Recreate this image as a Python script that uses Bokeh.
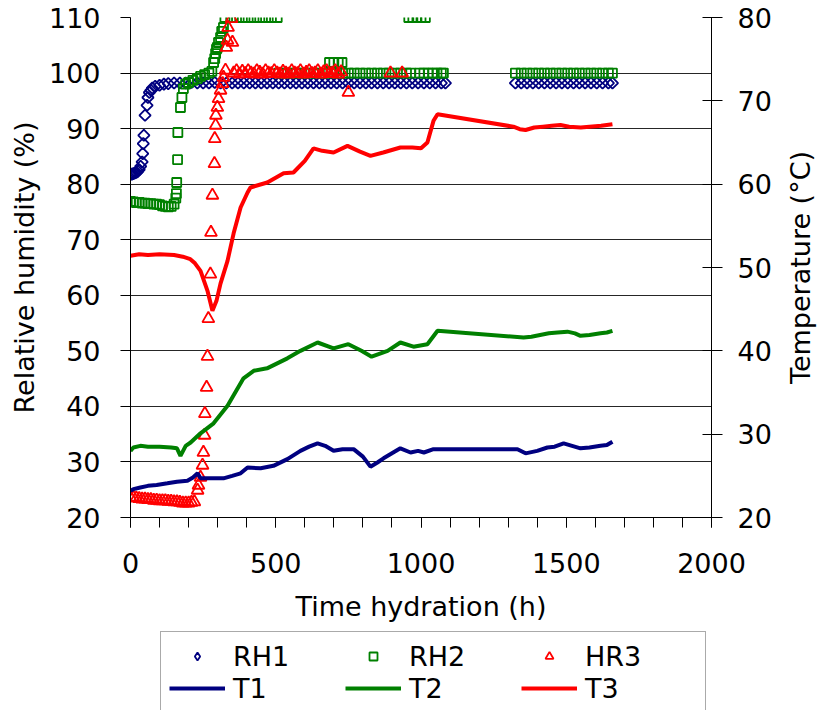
import math
from bokeh.plotting import figure
from bokeh.layouts import column, row
from bokeh.models import (Range1d, LinearAxis, FixedTicker, SingleIntervalTicker,
                          Legend, LegendItem, Title)
from bokeh.embed import file_html
from bokeh.resources import INLINE

NAN = float("nan")

# ---------------- data ----------------
# Relative humidity series (left axis, %)
rh1_h = [0, 5, 10, 15, 20, 25, 30, 35, 40, 42, 44, 46, 50, 57, 60, 65, 70, 75, 85, 100, 115, 130, 150,
         170, 190, 210, 230, 250, 270, 290, 310, 330, 350, 370, 390, 410, 430, 450, 470, 490, 510,
         530, 550, 570, 590, 610, 630, 650, 670, 690, 710, 730, 750, 770, 790, 810, 830, 850, 870,
         890, 910, 930, 950, 970, 990, 1010, 1030, 1050, 1070, 1084,
         1325, 1345, 1365, 1385, 1405, 1425, 1445, 1465, 1485, 1505, 1525, 1545, 1565, 1585, 1605,
         1625, 1645, 1659]
rh1_v = [81.8, 81.8, 81.9, 82.0, 82.1, 82.3, 82.6, 83.2, 84.0, 85.5, 87.3, 88.8, 92.4, 94.2, 95.6, 96.5,
         96.9, 97.3, 97.6, 97.8, 98.0, 98.1, 98.2,
         98.2, 98.2, 98.3, 98.2, 98.2, 98.2, 98.3, 98.2, 98.2, 98.2, 98.2, 98.2, 98.2, 98.2, 98.2, 98.2,
         98.2, 98.2, 98.2, 98.2, 98.2, 98.2, 98.2, 98.2, 98.2, 98.2, 98.2, 98.2, 98.2, 98.2, 98.2, 98.2,
         98.2, 98.2, 98.2, 98.2, 98.2, 98.2, 98.2, 98.2, 98.2, 98.2, 98.2, 98.2, 98.2, 98.2, 98.2,
         98.2, 98.2, 98.2, 98.2, 98.2, 98.2, 98.2, 98.2, 98.2, 98.2, 98.2, 98.2, 98.2, 98.2, 98.2,
         98.2, 98.2, 98.2]

rh2_h = [0, 10, 20, 30, 40, 50, 60, 70, 80, 90, 100, 110, 120, 130, 140, 150,
         156, 158, 159, 162, 163, 172, 177, 182, 190, 200, 215, 230, 241, 255, 270, 280,
         286, 290, 293, 296, 299, 303, 310, 314, 320,
         325, 345, 365, 385, 405, 425, 445, 465, 485, 505,
         510, 530, 550, 570, 590, 610, 630, 650, 670, 685, 690, 700, 710, 715, 728, 730, 750, 770,
         790, 810, 830, 850, 870, 890, 910, 930, 950, 958, 965, 972, 986, 995, 1000, 1010, 1015,
         1025, 1040, 1055, 1070, 1077,
         1325, 1345, 1365, 1385, 1405, 1425, 1445, 1465, 1485, 1505, 1525, 1545, 1565, 1585, 1605,
         1625, 1645, 1659]
rh2_v = [76.9, 76.8, 76.7, 76.7, 76.6, 76.6, 76.5, 76.5, 76.4, 76.4, 76.3, 76.1, 76.0, 75.9, 76.0, 76.4,
         77.5, 78.3, 80.3, 84.4, 89.3, 93.8, 95.6, 97.2, 98.0, 98.3, 98.7, 99.0, 99.4, 99.7, 100.0, 100.3,
         101.9, 102.6, 103.5, 104.3, 104.6, 105.5, 106.4, 107.5, 108.2,
         110, 110, 110, 110, 110, 110, 110, 110, 110, 110,
         100.0, 100.0, 100.0, 100.0, 100.0, 100.0, 100.0, 100.0, 100.0, 101.9, 100.0, 101.9, 100.0,
         101.9, 101.9, 100.0, 100.0, 100.0,
         100.0, 100.0, 100.0, 100.0, 100.0, 100.0, 100.0, 100.0, 100.0, 110, 100.0, 110, 110, 100.0,
         110, 100.0, 110,
         100.0, 100.0, 100.0, 100.0, 100.0,
         100.0, 100.0, 100.0, 100.0, 100.0, 100.0, 100.0, 100.0, 100.0, 100.0, 100.0, 100.0, 100.0,
         100.0, 100.0, 100.0, 100.0, 100.0]

hr3_h = [0, 10, 20, 30, 40, 50, 60, 70, 80, 90, 100, 110, 120, 130, 140, 150, 160, 170, 180, 190,
         200, 210, 220,
         231, 234, 241, 248, 251, 255, 256, 262, 265, 268, 275, 277, 282, 289, 290, 293, 294, 299,
         303, 310, 317, 320, 327, 330, 334, 336, 348, 351,
         355, 365, 375, 385, 395, 405, 415, 425, 435, 445, 455, 465, 475, 485, 495, 505, 515, 525,
         535, 545, 555, 565, 575, 585, 595, 605, 615, 625, 635, 645, 655, 665, 675, 685, 695, 705,
         715, 725, 750, 895, 935]
hr3_v = [23.6, 23.6, 23.5, 23.4, 23.3, 23.3, 23.2, 23.2, 23.1, 23.1, 23.0, 23.0, 23.0, 22.9, 22.9,
         22.8, 22.8, 22.7, 22.6, 22.6, 22.6, 22.7, 22.8,
         24.9, 25.8, 27.2, 29.4, 31.7, 34.8, 38.7, 43.4, 49.0, 55.8, 63.8, 71.3, 78.0, 83.7, 88.2,
         90.6, 92.4, 93.8, 95.4, 96.9, 98.1, 99.2, 100.5, 104.6, 105.9, 108.2, 109.8, 105.5,
         100.0, 100.4, 99.8, 100.3, 99.9, 100.4, 100.0, 99.8, 100.4, 100.1, 99.8, 100.4, 100.0, 99.9,
         100.4, 100.0, 99.8, 100.3, 100.0, 99.8, 100.4, 100.0, 99.9, 100.4, 99.8, 100.1, 100.4, 99.9,
         100.0, 100.4, 99.8, 100.2, 100.4, 99.9, 100.0, 100.4, 99.8, 100.2, 96.5, 100.0, 100.0]

# Temperature series (right axis, degC)
t1_h = [0, 10, 34, 60, 90, 127, 160, 196, 215, 231, 241, 280, 320, 350, 379, 403, 448, 492, 540,
        585, 615, 644, 670, 699, 730, 768, 800, 826, 850, 871, 900, 929, 964, 990, 1010, 1043,
        1100, 1200, 1332, 1360, 1400, 1435, 1460, 1491, 1520, 1549, 1580, 1618, 1640, 1659]
t1_v = [23.2, 23.4, 23.6, 23.8, 23.9, 24.1, 24.3, 24.4, 24.8, 25.3, 24.7, 24.7, 24.7, 25.0, 25.3,
        26.0, 25.9, 26.2, 27.0, 28.0, 28.5, 28.9, 28.6, 28.0, 28.2, 28.2, 27.3, 26.1, 26.6, 27.1,
        27.7, 28.3, 27.8, 28.0, 27.8, 28.2, 28.2, 28.2, 28.2, 27.7, 28.0, 28.4, 28.5, 28.9, 28.6,
        28.3, 28.4, 28.6, 28.7, 29.1]

t2_h = [0, 10, 34, 60, 100, 140, 160, 172, 190, 207, 241, 286, 334, 389, 424, 470, 540, 585, 644,
        699, 750, 795, 830, 885, 929, 974, 1022, 1057, 1353, 1380, 1410, 1440, 1470, 1504, 1530,
        1549, 1580, 1618, 1640, 1659]
t2_v = [28.0, 28.4, 28.6, 28.5, 28.5, 28.4, 28.3, 27.4, 28.6, 29.0, 30.1, 31.3, 33.4, 36.7, 37.6,
        37.9, 39.1, 40.0, 41.0, 40.3, 40.8, 40.0, 39.3, 40.0, 41.0, 40.5, 40.8, 42.4, 41.6, 41.7,
        41.9, 42.1, 42.2, 42.3, 42.1, 41.8, 41.9, 42.1, 42.2, 42.4]

t3_h = [0, 30, 60, 100, 150, 180, 206, 222, 241, 265, 282, 296, 310, 334, 355, 379, 403, 413, 471,
        527, 561, 600, 630, 660, 699, 747, 790, 826, 870, 929, 970, 1000, 1022, 1043, 1057, 1318,
        1340, 1360, 1390, 1420, 1450, 1480, 1510, 1550, 1580, 1620, 1659]
t3_v = [51.4, 51.6, 51.5, 51.6, 51.5, 51.3, 51.0, 50.5, 49.6, 47.2, 44.8, 46.0, 48.1, 50.8, 54.1,
        57.2, 59.0, 59.6, 60.2, 61.3, 61.4, 62.8, 64.3, 64.0, 63.8, 64.6, 63.9, 63.4, 63.8, 64.4,
        64.4, 64.3, 65.0, 67.6, 68.4, 66.9, 66.6, 66.5, 66.8, 66.9, 67.0, 67.1, 66.9, 66.8, 66.9,
        67.0, 67.2]

rh_ticks = [20, 30, 40, 50, 60, 70, 80, 90, 100, 110]
t_ticks = [20, 30, 40, 50, 60, 70, 80]
legend_labels = ["RH1", "RH2", "HR3", "T1", "T2", "T3"]

NAVY, GREEN, RED = "#000080", "#008000", "#FF0000"
FONT = "DejaVu Sans"
FS = "27px"

# ---------------- main figure ----------------
p = figure(width=780, height=631, x_range=Range1d(0, 2000), y_range=Range1d(20, 110),
           output_backend="svg", toolbar_location=None,
           min_border_left=130, min_border_right=69, min_border_top=17, min_border_bottom=114)
p.extra_y_ranges = {"temp": Range1d(20, 80)}
p.outline_line_color = None
p.background_fill_color = "white"
p.border_fill_color = "white"

xa = p.xaxis[0]
xa.ticker = SingleIntervalTicker(interval=500, num_minor_ticks=5)
xa.axis_label = "Time hydration (h)"
ya = p.yaxis[0]
ya.ticker = FixedTicker(ticks=rh_ticks)
ya.axis_label = "Relative humidity (%)"
ra = LinearAxis(y_range_name="temp", ticker=FixedTicker(ticks=t_ticks))
p.add_layout(ra, "right")

for ax in (xa, ya, ra):
    ax.axis_line_color = "black"
    ax.axis_line_width = 1
    ax.major_tick_line_color = "black"
    ax.minor_tick_line_color = "black"
    ax.major_tick_in = 0
    ax.major_tick_out = 10
    ax.minor_tick_in = 0
    ax.minor_tick_out = 10
    ax.major_label_text_font = FONT
    ax.major_label_text_font_size = FS
    ax.major_label_text_color = "black"
    ax.axis_label_text_font = FONT
    ax.axis_label_text_font_size = FS
    ax.axis_label_text_font_style = "normal"
    ax.axis_label_text_color = "black"

ya.minor_tick_line_color = None
ra.minor_tick_line_color = None
ra.major_tick_in = 9
ra.major_tick_out = 11

xa.major_label_standoff = 25
xa.axis_label_standoff = 15
ya.major_label_standoff = 20
ya.axis_label_standoff = 6
ra.major_label_standoff = 15

p.xgrid.grid_line_color = None
p.ygrid.ticker = FixedTicker(ticks=rh_ticks)
p.ygrid.grid_line_color = "black"
p.ygrid.grid_line_width = 1
p.ygrid.grid_line_alpha = 0.85

p.scatter(rh1_h, rh1_v, marker="square", angle=math.pi / 4, size=8,
          fill_color=None, line_color=NAVY, line_width=1.8)
p.scatter(rh2_h, rh2_v, marker="square", size=9,
          fill_color=None, line_color=GREEN, line_width=1.8)
p.scatter(hr3_h, hr3_v, marker="triangle", size=12,
          fill_color=None, line_color=RED, line_width=1.8)
p.line(t1_h, t1_v, y_range_name="temp", line_color=NAVY, line_width=4)
p.line(t2_h, t2_v, y_range_name="temp", line_color=GREEN, line_width=4)
p.line(t3_h, t3_v, y_range_name="temp", line_color=RED, line_width=4)

# ---------------- right-hand title (reads bottom-to-top) ----------------
r = figure(width=40, height=631, output_backend="svg", toolbar_location=None,
           min_border_left=38, min_border_right=0, min_border_top=17, min_border_bottom=114,
           x_axis_location=None, y_axis_location=None)
r.grid.visible = False
r.outline_line_color = None
r.background_fill_color = "white"
r.border_fill_color = "white"
r.add_layout(Title(text="Temperature (°C)", align="center", offset=-37,
                   text_font=FONT, text_font_size=FS, text_font_style="normal",
                   text_color="black"), "left")

# ---------------- legend strip below the chart ----------------
q = figure(width=780, height=79, x_range=Range1d(0, 1), y_range=Range1d(0, 1),
           output_backend="svg", toolbar_location=None, min_border=0,
           x_axis_location=None, y_axis_location=None)
q.grid.visible = False
q.outline_line_color = None
q.background_fill_color = "white"
q.border_fill_color = "white"
lg1 = q.scatter([NAN], [NAN], marker="diamond", size=11,
                fill_color=None, line_color=NAVY, line_width=1.8)
lg2 = q.scatter([NAN], [NAN], marker="square", size=8, fill_color=None, line_color=GREEN,
                line_width=1.8)
lg3 = q.scatter([NAN], [NAN], marker="triangle", size=9, fill_color=None, line_color=RED,
                line_width=1.8)
lg4 = q.line([NAN], [NAN], line_color=NAVY, line_width=4)
lg5 = q.line([NAN], [NAN], line_color=GREEN, line_width=4)
lg6 = q.line([NAN], [NAN], line_color=RED, line_width=4)

legend = Legend(items=[LegendItem(label=lab, renderers=[rr]) for lab, rr in
                       zip(legend_labels, [lg1, lg2, lg3, lg4, lg5, lg6])],
                ncols=3, orientation="horizontal", location=(30, -3),
                glyph_width=56, glyph_height=20, label_height=32, label_standoff=8,
                label_width=112, spacing=0, padding=8, margin=0,
                label_text_font=FONT, label_text_font_size=FS, label_text_color="black",
                border_line_color="#555555", border_line_width=1.5,
                background_fill_color="white", background_fill_alpha=1)
q.add_layout(legend, "center")

layout = row(column(p, q, spacing=0), r, spacing=0)
open("out.html", "w").write(file_html(layout, INLINE))
